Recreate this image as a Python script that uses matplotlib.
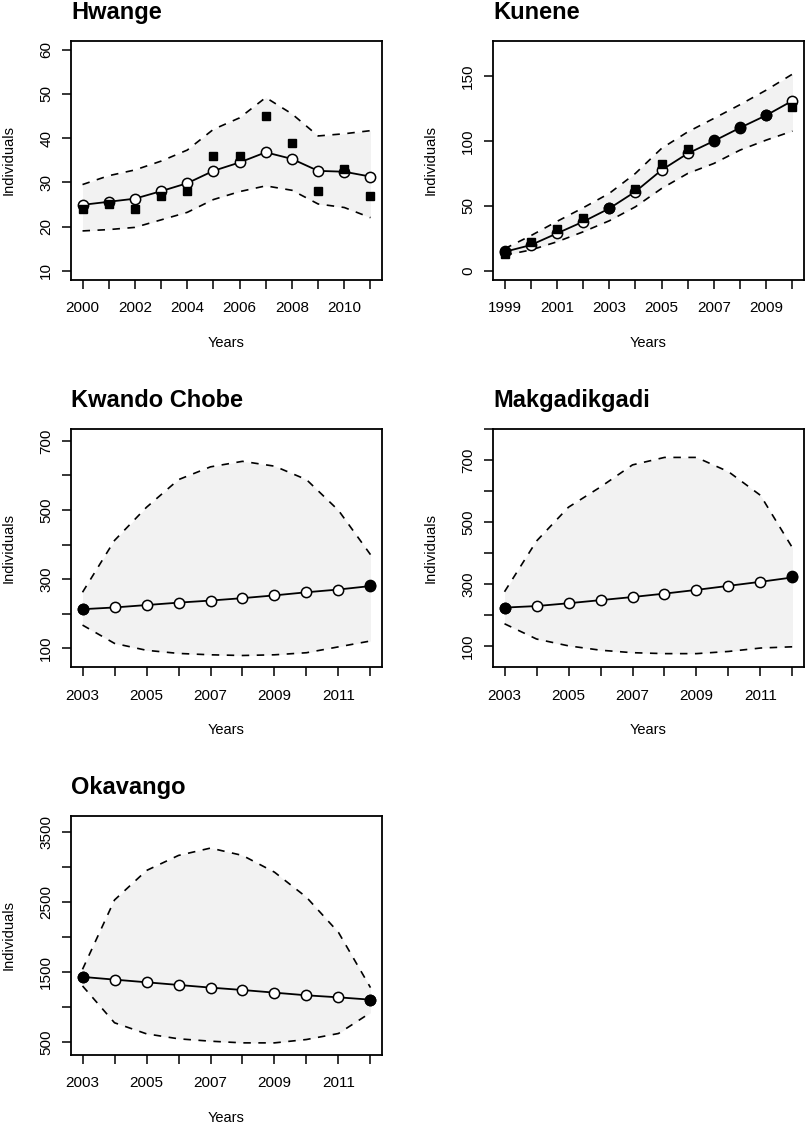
import matplotlib
matplotlib.use("Agg")
import matplotlib.pyplot as plt
from matplotlib.transforms import offset_copy

plt.rcParams['font.family'] = ['Liberation Sans', 'DejaVu Sans']

# Hwange
hw_years = list(range(2000, 2012))
hw_est = [24.9, 25.6, 26.3, 28.0, 29.8, 32.6, 34.5, 36.8, 35.3, 32.6, 32.4, 31.3]
hw_obs = [24, 25, 24, 27, 28, 36, 36, 45, 39, 28, 33, 27]
hw_upper = [29.5, 31.5, 32.8, 34.8, 37.3, 42.0, 44.6, 49.2, 45.5, 40.5, 41.0, 41.7]
hw_lower = [19.0, 19.3, 19.8, 21.5, 23.2, 26.1, 27.9, 29.2, 28.2, 25.1, 24.3, 22.0]

# Kunene
ku_years = list(range(1999, 2011))
ku_est = [14.6, 19.8, 28.8, 37.8, 48.0, 61.0, 77.6, 90.4, 100.0, 110.2, 119.8, 131.0]
ku_sq_years = [1999, 2000, 2001, 2002, 2004, 2005, 2006, 2010]
ku_sq = [12.8, 22.3, 31.9, 40.3, 63.0, 82.2, 93.5, 126.0]
ku_dot_years = [1999, 2003, 2007, 2008, 2009]
ku_dot = [15.0, 48.0, 100.6, 110.6, 120.0]
ku_upper = [17.0, 27.0, 38.0, 48.5, 59.6, 75.0, 94.3, 107.0, 117.4, 128.0, 139.2, 151.5]
ku_lower = [12.0, 16.0, 22.3, 30.0, 38.5, 49.3, 63.4, 75.0, 82.7, 93.0, 100.7, 107.6]

# Kwando Chobe
kc_years = list(range(2003, 2013))
kc_est = [213, 218, 225, 232, 238, 245, 253, 262, 270, 280]
kc_dot_years = [2003, 2012]
kc_dot = [213, 283]
kc_upper = [262, 412, 508, 588, 625, 641, 627, 588, 499, 371]
kc_lower = [167, 114, 94, 85, 81, 79, 81, 87, 104, 121]

# Makgadikgadi
mk_years = list(range(2003, 2013))
mk_est = [225, 230, 239, 249, 259, 270, 282, 295, 308, 322]
mk_dot_years = [2003, 2012]
mk_dot = [225, 327]
mk_upper = [276, 439, 548, 613, 684, 708, 708, 662, 586, 417]
mk_lower = [173, 124, 102, 88, 80, 77, 77, 84, 95, 99]

# Okavango
ok_years = list(range(2003, 2013))
ok_est = [1432, 1393, 1355, 1317, 1279, 1245, 1207, 1169, 1140, 1107]
ok_dot_years = [2003, 2012]
ok_dot = [1432, 1107]
ok_upper = [1540, 2530, 2951, 3166, 3271, 3166, 2927, 2569, 2067, 1279]
ok_lower = [1303, 777, 619, 548, 514, 490, 490, 538, 624, 920]

fig = plt.figure(figsize=(8.05, 11.25), dpi=100)
W, H = 805.0, 1125.0


def make_axes(x0, y0):
    return fig.add_axes([x0 / W, 1 - (y0 + 238.5) / H, 311 / W, 238.5 / H])


def panel(ax, title, years, est, upper, lower, yticks, ylabels, ylim, xstart):
    ax.fill_between(years, lower, upper, color='#f2f2f2', lw=0, zorder=1)
    ax.plot(years, upper, color='black', lw=1.2, dashes=(4.5, 4.5), zorder=2)
    ax.plot(years, lower, color='black', lw=1.2, dashes=(4.5, 4.5), zorder=2)
    ax.plot(years, est, color='black', lw=1.3, zorder=3)
    ax.plot(years, est, 'o', ms=7.4, mfc='white', mec='black', mew=1.1, zorder=4)
    span = years[-1] - years[0]
    ax.set_xlim(years[0] - 0.04 * span, years[-1] + 0.04 * span)
    ax.set_ylim(*ylim)
    xl = [str(y) if (y - xstart) % 2 == 0 else '' for y in years]
    ax.set_xticks(years, xl)
    ax.set_yticks(yticks, ylabels, rotation=90, va='center')
    ax.tick_params(direction='out', length=6.7, width=1.1, labelsize=11)
    ax.tick_params(axis='x', pad=9)
    ax.tick_params(axis='y', pad=6)
    for s in ax.spines.values():
        s.set_linewidth(1.3)
    ax.set_title(title, loc='left', pad=15.8, fontsize=17, fontweight='bold')
    ax.text(0.5, 0, 'Years', fontsize=10.5, ha='center', va='baseline',
            transform=offset_copy(ax.transAxes, fig=fig, y=-67.5, units='dots'))
    ax.text(0, 0.5, 'Individuals', fontsize=10.5, ha='center', va='baseline',
            rotation=90, rotation_mode='anchor',
            transform=offset_copy(ax.transAxes, fig=fig, x=-58.5, units='dots'))


def sq(ax, x, y):
    ax.plot(x, y, 's', ms=5.8, color='black', zorder=5)


def dot(ax, x, y):
    ax.plot(x, y, 'o', ms=7.4, color='black', zorder=6)


ax1 = make_axes(71, 41)
panel(ax1, 'Hwange', hw_years, hw_est, hw_upper, hw_lower,
      [10, 20, 30, 40, 50, 60], ['10', '20', '30', '40', '50', '60'], (8, 62), 2000)
sq(ax1, hw_years, hw_obs)

ax2 = make_axes(493, 41)
panel(ax2, 'Kunene', ku_years, ku_est, ku_upper, ku_lower,
      [0, 50, 100, 150], ['0', '50', '100', '150'], (-6.7, 177), 1999)
sq(ax2, ku_sq_years, ku_sq)
dot(ax2, ku_dot_years, ku_dot)

ax3 = make_axes(71, 428.5)
panel(ax3, 'Kwando Chobe', kc_years, kc_est, kc_upper, kc_lower,
      [100, 200, 300, 400, 500, 600, 700], ['100', '', '300', '', '500', '', '700'],
      (45.7, 736), 2003)
dot(ax3, kc_dot_years, kc_dot)

ax4 = make_axes(493, 428.5)
panel(ax4, 'Makgadikgadi', mk_years, mk_est, mk_upper, mk_lower,
      [100, 200, 300, 400, 500, 600, 700, 800],
      ['100', '', '300', '', '500', '', '700', ''], (34, 801), 2003)
dot(ax4, mk_dot_years, mk_dot)

ax5 = make_axes(71, 816)
panel(ax5, 'Okavango', ok_years, ok_est, ok_upper, ok_lower,
      [500, 1000, 1500, 2000, 2500, 3000, 3500],
      ['500', '', '1500', '', '2500', '', '3500'], (324, 3729), 2003)
dot(ax5, ok_dot_years, ok_dot)

fig.savefig('out.png', dpi=100)
plt.close()
